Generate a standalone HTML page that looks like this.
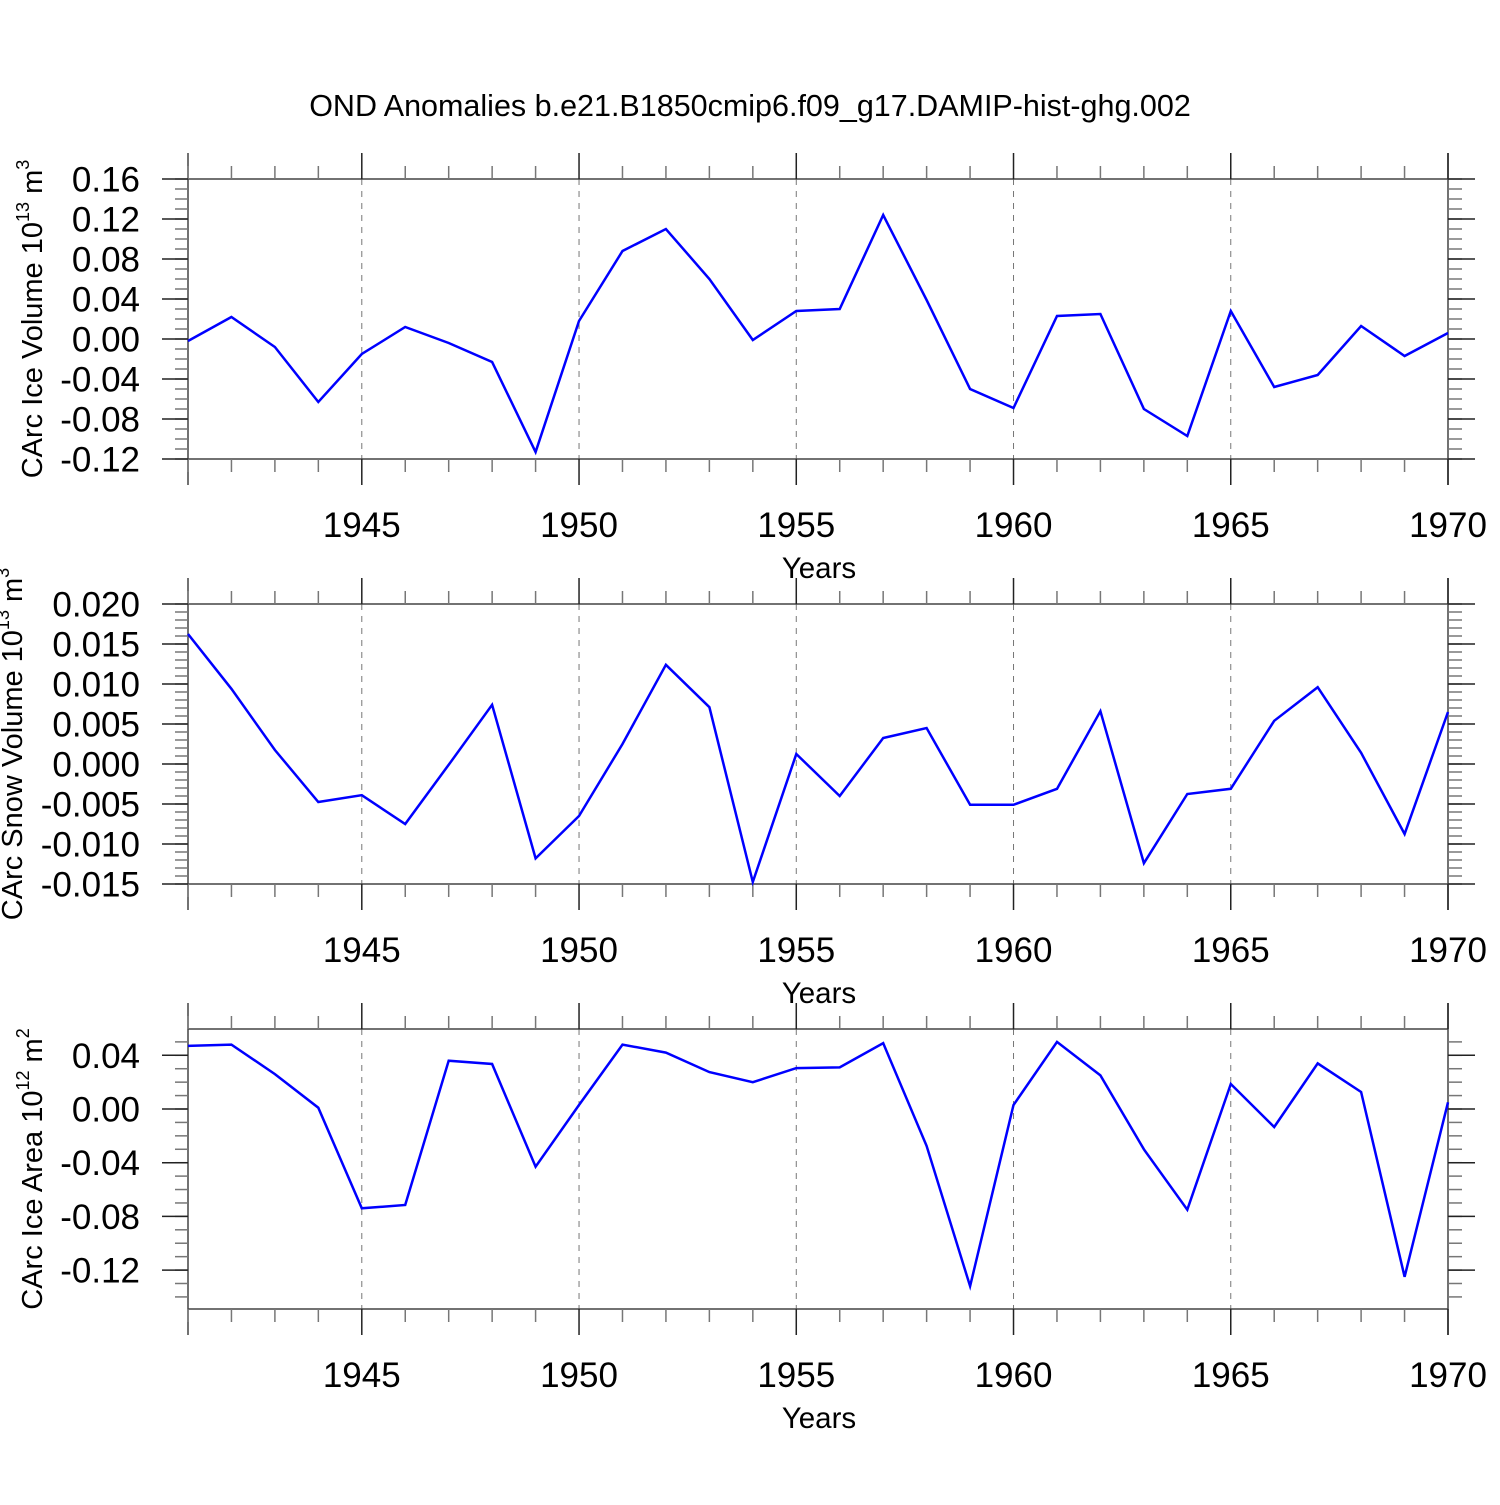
<!DOCTYPE html>
<html><head><meta charset="utf-8"><style>
html,body{margin:0;padding:0;background:#fff}
svg text{font-family:"Liberation Sans",Arial,sans-serif;fill:#000}
</style></head><body>
<svg id="chart" width="1500" height="1500" viewBox="0 0 1500 1500" xmlns="http://www.w3.org/2000/svg">
<text x="750" y="116" font-size="30.5" text-anchor="middle">OND Anomalies b.e21.B1850cmip6.f09_g17.DAMIP-hist-ghg.002</text>
</svg>
<script>
const years = [1941,1942,1943,1944,1945,1946,1947,1948,1949,1950,1951,1952,1953,1954,1955,1956,1957,1958,1959,1960,1961,1962,1963,1964,1965,1966,1967,1968,1969,1970];
const iceVolume = [-0.002,0.022,-0.008,-0.063,-0.015,0.012,-0.004,-0.023,-0.113,0.018,0.088,0.110,0.060,-0.001,0.028,0.030,0.124,0.039,-0.050,-0.069,0.023,0.025,-0.070,-0.097,0.028,-0.048,-0.036,0.013,-0.017,0.006];
const snowVolume = [0.01625,0.0094,0.00175,-0.00475,-0.0039,-0.0075,-0.0001,0.0074,-0.0118,-0.0065,0.0025,0.0124,0.0071,-0.01475,0.00125,-0.004,0.00325,0.0045,-0.0051,-0.0051,-0.0031,0.0066,-0.0124,-0.00375,-0.0031,0.0054,0.0096,0.0014,-0.00875,0.0065];
const iceArea = [0.047,0.048,0.026,0.001,-0.074,-0.0715,0.036,0.0335,-0.043,0.003,0.048,0.042,0.0275,0.020,0.0305,0.031,0.049,-0.0275,-0.132,0.003,0.050,0.025,-0.030,-0.075,0.0186,-0.0134,0.034,0.0127,-0.125,0.005];
const xTickLabels = [1945,1950,1955,1960,1965,1970];
const iceVolTicks = ["0.16","0.12","0.08","0.04","0.00","-0.04","-0.08","-0.12"];
const snowVolTicks = ["0.020","0.015","0.010","0.005","0.000","-0.005","-0.010","-0.015"];
const iceAreaTicks = ["0.04","0.00","-0.04","-0.08","-0.12"];

const svg = document.getElementById('chart');
const NS = 'http://www.w3.org/2000/svg';
const X0 = 188, X1 = 1448;
function xs(yr){ return X0 + (yr-1941)*(X1-X0)/29; }
function mk(tag, attrs, parent){
  const e = document.createElementNS(NS, tag);
  for (const k in attrs) e.setAttribute(k, attrs[k]);
  (parent||svg).appendChild(e); return e;
}
function panel(key, top, ymin, ymax, ticks, minorStep, vals, label, sup, unitExp){
  const bot = top + 280;
  const ys = v => bot - (v-ymin)*(280)/(ymax-ymin);
  const g = mk('g', {});
  
  
  xTickLabels.forEach(yr => {
    if (yr === 1970) return;
    const l = mk('line', {x1:xs(yr), x2:xs(yr), y1:top, y2:bot, stroke:'#777', 'stroke-width':1, 'stroke-dasharray':'6,6'}, g);
    
    
  });
  const axc = '#444';
  mk('line', {x1:X0, x2:X1, y1:top, y2:top, stroke:axc, 'stroke-width':1.5}, g);
  mk('line', {x1:X0, x2:X1, y1:bot, y2:bot, stroke:axc, 'stroke-width':1.5}, g);
  mk('line', {x1:X0, x2:X0, y1:top-26, y2:bot+26, stroke:axc, 'stroke-width':1.5}, g);
  mk('line', {x1:X1, x2:X1, y1:top-26, y2:bot+26, stroke:axc, 'stroke-width':1.5}, g);
  years.forEach(yr => {
    const major = yr % 5 === 0;
    const L = major ? 26 : 13;
    const x = xs(yr);
    mk('line', {x1:x, x2:x, y1:top-L, y2:top, stroke:major?'#222':'#777', 'stroke-width':1.5}, g);
    mk('line', {x1:x, x2:x, y1:bot, y2:bot+L, stroke:major?'#222':'#777', 'stroke-width':1.5}, g);
  });
  xTickLabels.forEach(yr => {
    const t = mk('text', {x:xs(yr), y:bot+78, 'font-size':35, 'text-anchor':'middle'}, g);
    
    
    t.textContent = yr;
  });
  const xt = mk('text', {x:819, y:bot+119, 'font-size':29.5, 'text-anchor':'middle'}, g);
  
  
  xt.textContent = 'Years';
  const start = Math.ceil(ymin/minorStep - 1e-6);
  for (let i = start; i*minorStep <= ymax + 1e-9; i++){
    const y = ys(i*minorStep);
    mk('line', {x1:175, x2:X0, y1:y, y2:y, stroke:'#777', 'stroke-width':1.5}, g);
    mk('line', {x1:X1, x2:1462, y1:y, y2:y, stroke:'#777', 'stroke-width':1.5}, g);
  }
  ticks.forEach(s => {
    const y = ys(parseFloat(s));
    mk('line', {x1:162, x2:X0, y1:y, y2:y, stroke:'#222', 'stroke-width':1.5}, g);
    mk('line', {x1:X1, x2:1475, y1:y, y2:y, stroke:'#222', 'stroke-width':1.5}, g);
    const t = mk('text', {x:140, y:y+12.5, 'font-size':35, 'text-anchor':'end'}, g);
    
    
    t.textContent = s;
  });
  const cy = top + 140;
  const yt = mk('text', {x:0, y:0, 'font-size':29, 'text-anchor':'middle', transform:`translate(${label.x},${cy}) rotate(-90)`}, g);
  
  
  yt.innerHTML = label.text + ' 10<tspan font-size="18" dy="-13">' + unitExp + '</tspan><tspan dy="13"> ' + sup + '</tspan><tspan font-size="18" dy="-13">' + label.pw + '</tspan>';
  const pts = vals.map((v,i) => xs(years[i]).toFixed(1) + ',' + ys(v).toFixed(1)).join(' ');
  const pl = mk('polyline', {points:pts, fill:'none', stroke:'#0000ff', 'stroke-width':2.5, 'stroke-linejoin':'miter'}, g);
  
  
}
panel('ice-volume', 179, -0.12, 0.16, iceVolTicks, 0.01, iceVolume, {x:42, text:'CArc Ice Volume', pw:'3'}, 'm', '13');
panel('snow-volume', 604, -0.015, 0.020, snowVolTicks, 0.001, snowVolume, {x:22, text:'CArc Snow Volume', pw:'3'}, 'm', '13');
panel('ice-area', 1029, -0.149, 0.0596, iceAreaTicks, 0.01, iceArea, {x:42, text:'CArc Ice Area', pw:'2'}, 'm', '12');
</script>
</body></html>
